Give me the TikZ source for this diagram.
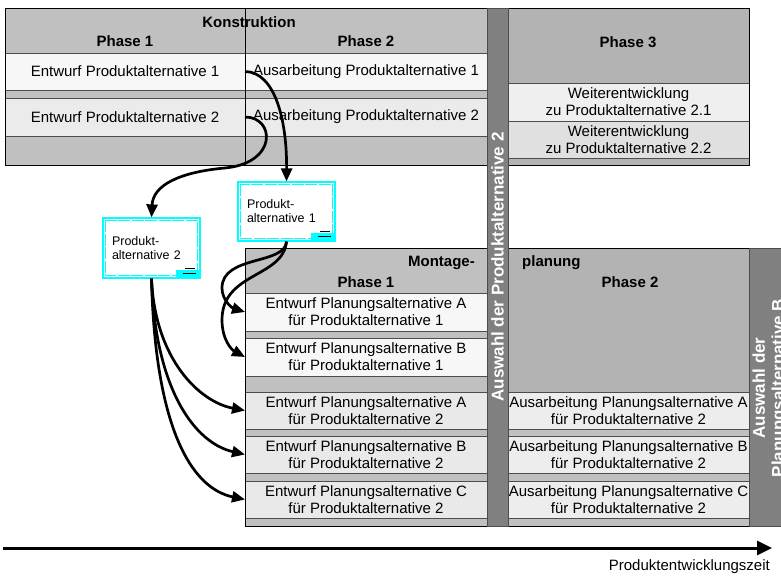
\documentclass[tikz,border=0pt]{standalone}
\usepackage{fontspec}
\setmainfont{Liberation Sans}
\usetikzlibrary{arrows.meta}

\definecolor{hdr}{HTML}{C0C0C0}
\definecolor{hdrdark}{HTML}{B3B3B3}
\definecolor{barc}{HTML}{808080}
\definecolor{rowlight}{HTML}{F7F7F7}
\definecolor{rowmid}{HTML}{EBEBEB}
\definecolor{rowpa}{HTML}{EFEFEF}
\definecolor{rowpb}{HTML}{E0E0E0}
\definecolor{rowpl}{HTML}{E9E9E9}
\definecolor{rowpx}{HTML}{EDEDED}
\definecolor{objcyan}{RGB}{0,255,255}

\tikzset{
  cell/.style={draw=black!70, line width=0.6pt, inner sep=0pt, outer sep=0pt,
    align=center, font=\fontsize{15}{17}\selectfont},
  head/.style={font=\bfseries\fontsize{15}{17}\selectfont, inner sep=0pt},
  bartext/.style={text=white, font=\bfseries\fontsize{17}{19}\selectfont,
    rotate=90, align=center, inner sep=0pt},
  block/.style={draw=black, line width=0.8pt},
  bar/.style={draw=black!70, line width=0.6pt, fill=barc},
  objbox/.style={draw=objcyan, line width=1.2pt, fill=white, align=left,
    inner xsep=9pt, inner ysep=0pt, text width=79pt,
    font=\fontsize{12.5}{14}\selectfont},
  flow/.style={line width=2.7pt, -{Triangle[length=13pt,width=11pt]}},
  timeline/.style={line width=3pt, -{Triangle[length=15pt,width=14pt]}},
}

\begin{document}
\begin{tikzpicture}[x=1pt,y=-1pt]
\useasboundingbox (0,0) rectangle (781,577);
\clip (0,0) rectangle (781,577);

% ---------------- Konstruktion ----------------
\fill[hdr] (5,8) rectangle (487,165);
\node[cell, fill=rowlight, minimum width=240pt, minimum height=37pt] (e1) at (125,71.5) {Entwurf Produktalternative 1};
\node[cell, fill=rowlight, minimum width=242pt, minimum height=37pt] (a1) at (366,71.5) {Ausarbeitung Produktalternative 1};
\node[cell, fill=rowmid, minimum width=240pt, minimum height=38pt] (e2) at (125,117) {Entwurf Produktalternative 2};
\node[cell, fill=rowmid, minimum width=242pt, minimum height=38pt] (a2) at (366,117) {Ausarbeitung Produktalternative 2};
\draw[line width=0.8pt] (245,8) -- (245,165);
\draw[block] (5,8) rectangle (487,165);
\node[head] (kons) at (249,22) {Konstruktion};
\node[head] (k1) at (125,41) {Phase 1};
\node[head] (k2) at (366,41) {Phase 2};

% ---------------- Phase 3 ----------------
\fill[hdrdark] (508,8) rectangle (749,165);
\node[cell, fill=rowpa, minimum width=241pt, minimum height=38pt] (w1) at (628.5,102) {Weiterentwicklung\\zu Produktalternative 2.1};
\node[cell, fill=rowpb, minimum width=241pt, minimum height=37pt] (w2) at (628.5,139.5) {Weiterentwicklung\\zu Produktalternative 2.2};
\draw[block] (508,8) rectangle (749,165);
\node[head] (k3) at (628,42) {Phase 3};

% ---------------- Montageplanung ----------------
\fill[hdr] (245,248) rectangle (487,526);
\fill[hdrdark] (508,248) rectangle (749,392);
\fill[hdr] (508,392) rectangle (749,526);
\node[cell, fill=rowlight, minimum width=242pt, minimum height=38pt] (ea1) at (366,312) {Entwurf Planungsalternative A\\für Produktalternative 1};
\node[cell, fill=rowlight, minimum width=242pt, minimum height=38pt] (eb1) at (366,357) {Entwurf Planungsalternative B\\für Produktalternative 1};
\node[cell, fill=rowpl, minimum width=242pt, minimum height=37pt] (ea2) at (366,410.5) {Entwurf Planungsalternative A\\für Produktalternative 2};
\node[cell, fill=rowpl, minimum width=242pt, minimum height=37pt] (eb2) at (366,454.5) {Entwurf Planungsalternative B\\für Produktalternative 2};
\node[cell, fill=rowpl, minimum width=242pt, minimum height=37pt] (ec2) at (366,499.5) {Entwurf Planungsalternative C\\für Produktalternative 2};
\node[cell, fill=rowpx, minimum width=241pt, minimum height=37pt] (pa2) at (628.5,410.5) {Ausarbeitung Planungsalternative A\\für Produktalternative 2};
\node[cell, fill=rowpx, minimum width=241pt, minimum height=37pt] (pb2x) at (628.5,454.5) {Ausarbeitung Planungsalternative B\\für Produktalternative 2};
\node[cell, fill=rowpx, minimum width=241pt, minimum height=37pt] (pc2) at (628.5,499.5) {Ausarbeitung Planungsalternative C\\für Produktalternative 2};
\draw[block] (245,248) rectangle (487,526);
\draw[block] (508,248) rectangle (749,526);
\node[head, anchor=east] (mont) at (475,263) {Montage-};
\node[head, anchor=west] (plan) at (522,263) {planung};
\node[head] (m1) at (366,282) {Phase 1};
\node[head] (m2) at (630,282) {Phase 2};

% ---------------- selection bars ----------------
\draw[bar] (487,8) rectangle (508,526);
\node[bartext] (sel1) at (497.5,267) {Auswahl der Produktalternative 2};
\draw[bar] (749,248) rectangle (800,526);
\node[bartext] (sel2) at (770,388) {Auswahl der\\Planungsalternative B};

% ---------------- embedded product objects ----------------
\node[objbox, minimum height=59pt] (pb1) at (286.5,211.5) {Produkt-\\alternative 1};
\node[objbox, minimum height=60pt] (pb2) at (151.5,248) {Produkt-\\alternative 2};
\foreach \b in {pb1,pb2}{
  \draw[objcyan, line width=0.6pt, dash pattern=on 12pt off 1.5pt]
    ([shift={(3pt,-3pt)}]\b.north west) rectangle ([shift={(-3pt,3pt)}]\b.south east);
  \begin{scope}[shift={(\b.south east)}]
    \fill[objcyan] (-25,-9) rectangle (-2,-1);
    \draw[black, line width=0.8pt] (-16,-10.5) -- (-6,-10.5) (-18,-5) -- (-5,-5);
  \end{scope}
}

% ---------------- connectors ----------------
\draw[flow] (e1.east) .. controls (275,72) and (287,120) .. (pb1.north);
\draw[flow] (e2.east) .. controls (275,117) and (278,163) .. (225,168)
  .. controls (180,172) and (153,185) .. (pb2.north);
\draw[flow] (pb1.south) .. controls (285,265) and (222,255) .. (222,288)
  .. controls (222,300) and (232,308) .. (ea1.west);
\draw[flow] (pb1.south) .. controls (283,278) and (222,272) .. (222,320)
  .. controls (222,340) and (232,350) .. (eb1.west);
\draw[flow] (pb2.south) .. controls (155,360) and (200,402) .. (ea2.west);
\draw[flow] (pb2.south) .. controls (155,390) and (195,443) .. (eb2.west);
\draw[flow] (pb2.south) .. controls (155,425) and (190,488) .. (ec2.west);

% ---------------- time axis ----------------
\coordinate (t0) at (3,548);
\coordinate (t1) at (772,548);
\draw[timeline] (t0) -- (t1);
\node[anchor=east, inner sep=0pt, font=\fontsize{15}{17}\selectfont] (tlabel) at (770,567) {Produktentwicklungszeit};
\end{tikzpicture}
\end{document}
